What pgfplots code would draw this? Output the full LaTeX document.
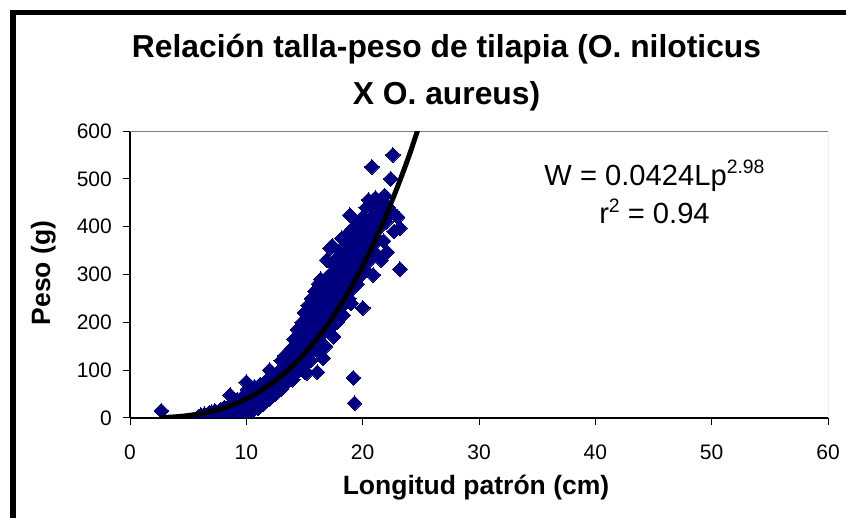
\documentclass[border=0pt]{standalone}
\usepackage{fontspec}
\setmainfont{Liberation Sans}
\usepackage{pgfplots}
\pgfplotsset{compat=1.18}
\definecolor{navyblue}{HTML}{000080}
\pgfplotstableread{
x y
2.7 15
5.9 3
6.1 6
6.2 2
6.4 8
6.6 5
6.8 10
7.0 4
7.0 12
7.2 8
7.3 15
7.5 6
7.6 12
7.8 18
7.9 9
8.0 14
8.1 22
8.3 10
8.4 18
8.5 25
8.5 3
8.6 48
8.7 14
8.8 28
8.9 20
9.0 32
9.0 5
9.1 12
9.2 38
9.3 24
9.4 30
9.5 5
9.6 42
9.7 20
9.8 35
9.9 28
10.0 75
10.0 45
10.0 10
10.1 60
10.2 32
10.3 50
10.4 22
10.5 55
10.5 15
10.6 40
10.7 65
10.8 30
10.9 48
11.0 58
11.0 20
11.1 38
11.2 70
11.3 45
11.5 62
11.5 30
11.6 52
11.8 80
11.9 42
12.0 100
12.0 40
12.1 68
12.3 55
12.4 85
12.5 75
12.5 50
12.7 62
12.8 92
13.0 80
13.0 120
13.0 60
13.1 105
13.2 70
13.3 130
13.4 95
13.5 115
13.5 75
13.6 85
13.7 140
13.8 120
13.9 100
14.0 148
14.0 90
14.0 80
14.1 165
14.2 130
14.3 110
14.4 185
14.5 140
14.5 100
14.6 120
14.7 160
14.8 105
14.8 200
15.0 96
15.0 150
15.0 220
15.1 175
15.2 130
15.2 94
15.2 200
15.3 190
15.3 235
15.4 145
15.5 165
15.5 120
15.6 200
15.6 250
15.7 140
15.8 180
15.9 215
15.9 265
16.0 160
16.0 200
16.1 96
16.1 230
16.2 190
16.2 140
16.2 280
16.3 170
16.4 245
16.4 290
16.5 210
16.5 230
16.6 125
16.6 180
16.7 260
16.8 225
16.8 150
16.9 195
16.9 330
17.0 280
17.0 240
17.0 210
17.1 205
17.2 355
17.2 300
17.3 265
17.3 190
17.4 220
17.4 360
17.5 320
17.5 250
17.5 170
17.6 290
17.7 235
17.8 335
17.8 270
17.8 200
17.9 305
17.9 220
18.0 250
18.0 350
18.1 285
18.2 376
18.2 320
18.2 240
18.3 265
18.3 215
18.4 340
18.5 300
18.5 360
18.5 240
18.6 280
18.6 260
18.7 385
18.7 320
18.8 250
18.9 424
18.9 345
19.0 300
19.0 370
19.0 240
19.1 395
19.1 270
19.2 84
19.2 330
19.2 290
19.3 31
19.3 360
19.4 310
19.4 400
19.5 280
19.5 345
19.6 375
19.7 410
19.7 320
19.8 355
19.8 330
19.9 300
19.9 390
20.0 230
20.0 420
20.0 340
20.1 370
20.2 400
20.2 310
20.3 440
20.3 360
20.4 350
20.5 456
20.5 385
20.6 330
20.7 415
20.7 380
20.8 525
20.8 360
20.9 299
20.9 440
21.0 390
21.1 460
21.1 345
21.2 420
21.3 375
21.4 450
21.4 410
21.5 400
21.6 330
21.7 430
21.8 370
21.9 465
22.0 410
22.1 347
22.2 440
22.4 500
22.5 431
22.6 550
22.7 390
23.0 420
23.2 397
23.2 311
}\datatable
\pgfplotstableread{
x y
2.6 0.731
3 1.120
4 2.639
5 5.132
6 8.836
7 13.99
8 20.83
9 29.59
10 40.47
11 53.75
12 69.67
13 88.42
14 110.3
15 135.5
16 164.1
17 196.6
18 233.0
19 273.7
20 318.9
21 368.8
22 423.7
23 483.7
24 549.0
25 621.6
}\fittable
\begin{document}
\begin{tikzpicture}
\fill[white] (0,0) rectangle (846bp,518bp);
\useasboundingbox (0,0) rectangle (846bp,518bp);
\begin{axis}[
  at={(130bp,100bp)}, anchor=south west,
  scale only axis, width=698bp, height=287bp,
  xmin=0, xmax=60, ymin=0, ymax=600,
  xtick={0,10,...,60}, ytick={0,100,...,600},
  axis x line*=bottom, axis y line*=left,
  axis line style={black, line width=1.6bp},
  tick align=outside, major tick length=7bp,
  tick style={black, line width=1bp},
  clip marker paths=true,
  /pgf/number format/assume math mode=true,
  ticklabel style={font=\fontsize{21bp}{24bp}\selectfont, inner sep=0pt},
  xticklabel shift=20bp, yticklabel shift=11bp,
  title={Relación talla-peso de tilapia (O. niloticus},
  title style={at={(axis description cs:0.4534,1.237)}, anchor=base, inner sep=0pt,
    font=\bfseries\fontsize{31.8bp}{38bp}\selectfont},
  xlabel={Longitud patrón (cm)},
  xlabel style={at={(axis description cs:0.4957,-0.265)}, anchor=base, inner sep=0pt,
    font=\bfseries\fontsize{26.5bp}{30bp}\selectfont},
  ylabel={Peso (g)},
  ylabel style={at={(axis description cs:-0.1146,0.505)}, anchor=base, inner sep=0pt,
    font=\bfseries\fontsize{26.5bp}{30bp}\selectfont},
]
\draw[gray, line width=1bp] (rel axis cs:0,1) -- (rel axis cs:1,1) -- (rel axis cs:1,0);
\addplot[only marks, mark=square*, mark size=5.2bp, mark options={rotate=45, fill=navyblue, draw=navyblue, line width=0pt}] table[x=x,y=y] {\datatable};
\addplot[black, line width=5bp, smooth] table[x=x,y=y] {\fittable};
\node[anchor=base, inner sep=0pt, font=\fontsize{29.15bp}{34bp}\selectfont] at (axis description cs:0.7514,0.8118)
  {W = 0.0424Lp\raisebox{11.5bp}{\fontsize{19.4bp}{20bp}\selectfont 2.98}};
\node[anchor=base, inner sep=0pt, font=\fontsize{29.15bp}{34bp}\selectfont] at (axis description cs:0.7514,0.676)
  {r\raisebox{11.5bp}{\fontsize{19.4bp}{20bp}\selectfont 2} = 0.94};
\end{axis}
\node[anchor=base, inner sep=0pt, font=\bfseries\fontsize{31.8bp}{38bp}\selectfont] at (446.5bp,413bp) {X O. aureus)};
\draw[black, line width=5.5bp, line join=miter] (13bp,0) -- (13bp,505.5bp) -- (846bp,505.5bp);
\end{tikzpicture}
\end{document}
